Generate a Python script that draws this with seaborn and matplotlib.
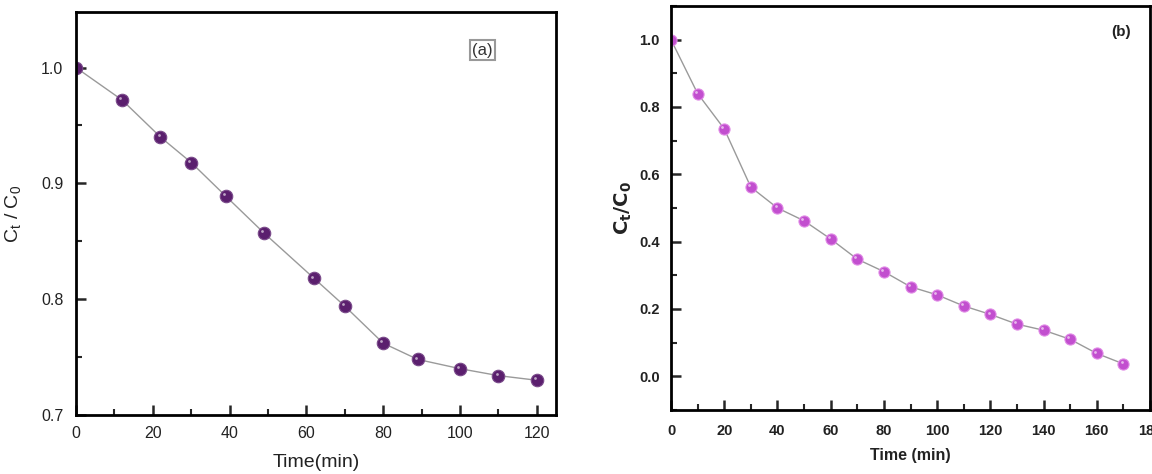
import matplotlib
matplotlib.use("Agg")
import matplotlib.pyplot as plt
import matplotlib.transforms as mtransforms
from matplotlib.ticker import MultipleLocator
import numpy as np
import pandas as pd
import seaborn as sns

# Data
time_a = [0, 12, 22, 30, 39, 49, 62, 70, 80, 89, 100, 110, 120]
ratio_a = [1.0, 0.972, 0.940, 0.918, 0.889, 0.857, 0.818, 0.794, 0.762, 0.748, 0.740, 0.734, 0.730]

time_b = [0, 10, 20, 30, 40, 50, 60, 70, 80, 90, 100, 110, 120, 130, 140, 150, 160, 170]
ratio_b = [1.0, 0.840, 0.735, 0.562, 0.500, 0.462, 0.408, 0.348, 0.311, 0.266, 0.242,
           0.209, 0.184, 0.155, 0.137, 0.110, 0.068, 0.037]

sns.set_style("ticks")
plt.rcParams['font.family'] = ['Liberation Sans', 'DejaVu Sans']

W, H = 1152, 474
fig = plt.figure(figsize=(W / 100, H / 100), dpi=100)

def px_axes(left, top, right, bottom):
    return fig.add_axes([left / W, 1 - bottom / H, (right - left) / W, (bottom - top) / H])

def sphere_plot(ax, df, face, edge, msize):
    sns.lineplot(data=df, x="t", y="r", ax=ax, color="#9a9a9a", linewidth=1.0,
                 marker="o", markersize=msize, markerfacecolor=face, markeredgecolor=edge,
                 markeredgewidth=0.8)
    # little shine on each sphere
    off = mtransforms.offset_copy(ax.transData, fig=fig, x=-1.3, y=1.3, units="points")
    ax.scatter(df["t"], df["r"], s=4, color="white", alpha=0.6, transform=off,
               zorder=5, linewidths=0)

def style_axes(ax, weight, size, xpad, ypad):
    for s in ax.spines.values():
        s.set_linewidth(2.0)
        s.set_color("black")
    ax.tick_params(direction="in", which="major", length=7, width=1.8,
                   top=False, right=False, labelsize=size)
    ax.tick_params(direction="in", which="minor", length=4, width=1.5,
                   top=False, right=False)
    ax.tick_params(axis="x", pad=xpad)
    ax.tick_params(axis="y", pad=ypad)
    for lab in ax.get_xticklabels() + ax.get_yticklabels():
        lab.set_fontweight(weight)
        lab.set_color("#222222")

# ---- panel (a)
df_a = pd.DataFrame({"t": time_a, "r": ratio_a})
ax1 = px_axes(76, 12, 556, 415)
sphere_plot(ax1, df_a, "#5b1f6e", "#7a4a8a", 9)
ax1.set_xlim(0, 125)
ax1.set_ylim(0.7, 1.048)
ax1.xaxis.set_major_locator(MultipleLocator(20))
ax1.xaxis.set_minor_locator(MultipleLocator(10))
ax1.yaxis.set_minor_locator(MultipleLocator(0.05))
ax1.set_yticks([0.7, 0.8, 0.9, 1.0])
ax1.set_yticklabels(["0.7", "0.8", "0.9", "1.0"])
style_axes(ax1, "normal", 11.5, 8, 9)
ax1.set_xlabel("Time(min)", fontsize=14, color="#222222", labelpad=9)
ax1.set_ylabel(r"C$_\mathregular{t}$ / C$_\mathregular{0}$", fontsize=14,
               color="#222222", labelpad=12)
ax1.text(0.847, 0.905, "(a)", transform=ax1.transAxes, ha="center", va="center",
         fontsize=12, color="#333333",
         bbox=dict(boxstyle="square,pad=0.15", facecolor="white",
                   edgecolor="#999999", linewidth=1.5))

# ---- panel (b)
df_b = pd.DataFrame({"t": time_b, "r": ratio_b})
ax2 = px_axes(671, 6, 1150, 410)
sphere_plot(ax2, df_b, "#c24fcf", "#e08ae6", 8)
ax2.set_xlim(0, 180)
ax2.set_ylim(-0.1, 1.1)
ax2.xaxis.set_major_locator(MultipleLocator(20))
ax2.xaxis.set_minor_locator(MultipleLocator(10))
ax2.set_yticks([0.0, 0.2, 0.4, 0.6, 0.8, 1.0])
ax2.yaxis.set_minor_locator(MultipleLocator(0.1))
style_axes(ax2, "bold", 10.5, 10, 8)
ax2.set_xlabel("Time (min)", fontsize=11.5, fontweight="bold", color="#222222", labelpad=7)
ax2.set_ylabel(r"$\mathbf{C_t/C_0}$", fontsize=14, color="#222222", labelpad=4)
ax2.text(0.94, 0.935, "(b)", transform=ax2.transAxes, ha="center", va="center",
         fontsize=11, fontweight="bold", color="#222222")

fig.savefig("out.png", dpi=100)
